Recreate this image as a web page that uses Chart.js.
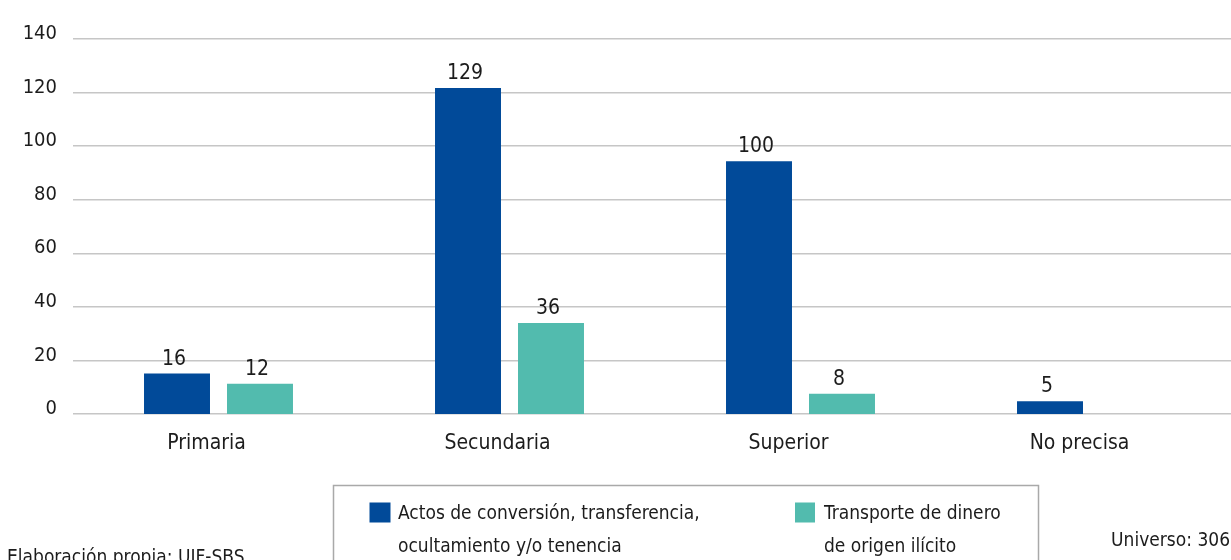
<!DOCTYPE html>
<html>
<head>
<meta charset="utf-8">
<script src="https://cdn.jsdelivr.net/npm/chart.js@4/dist/chart.umd.min.js"></script>
<style>
  html, body { margin: 0; padding: 0; background: #ffffff; overflow: hidden; }
  #wrap { position: absolute; left: 0; top: 0; width: 1240px; height: 560px; }
</style>
</head>
<body>
<div id="wrap"><canvas id="c" width="1240" height="560"></canvas></div>
<script>
// ---- data ----
const categories = ['Primaria', 'Secundaria', 'Superior', 'No precisa'];
const seriesNames = ['Actos de conversión, transferencia, ocultamiento y/o tenencia', 'Transporte de dinero de origen ilícito'];
const legendLines = [['Actos de conversión, transferencia,', 'ocultamiento y/o tenencia'], ['Transporte de dinero', 'de origen ilícito']];
const actosValues = [16, 129, 100, 5];
const transporteValues = [12, 36, 8, null];
const yTicks = [0, 20, 40, 60, 80, 100, 120, 140];
const sourceNote = 'Elaboración propia: UIF-SBS';
const universeNote = 'Universo: 306';

const FONT = "'Liberation Sans Narrow', 'DejaVu Sans Condensed', 'Roboto', sans-serif";
const TXT = '#1c1c1c';
const BLUE = '#014a99';
const TEAL = '#52bbae';

const valueLabels = {
  id: 'valueLabels',
  afterDatasetsDraw(chart) {
    const ctx = chart.ctx;
    ctx.save();
    ctx.font = '21px ' + FONT;
    ctx.fillStyle = TXT;
    ctx.textAlign = 'center';
    ctx.textBaseline = 'alphabetic';
    chart.data.datasets.forEach((ds, i) => {
      const meta = chart.getDatasetMeta(i);
      meta.data.forEach((el, j) => {
        const v = ds.data[j];
        if (v === null || v === undefined) return;
        ctx.fillText(String(v), el.x - 3, el.y - 9);
      });
    });
    ctx.restore();
  }
};

const legendBox = {
  id: 'legendBox',
  afterDraw(chart) {
    const ctx = chart.ctx;
    ctx.save();
    ctx.strokeStyle = '#a9a9a9';
    ctx.lineWidth = 1.5;
    ctx.strokeRect(333.5, 485.5, 705, 120);
    const items = [{ sx: 369.5, sw: 21, tx: 398 }, { sx: 795, sw: 20, tx: 824 }];
    ctx.font = '19px ' + FONT;
    ctx.textAlign = 'left';
    ctx.textBaseline = 'alphabetic';
    chart.data.datasets.forEach((ds, i) => {
      const it = items[i];
      ctx.fillStyle = ds.backgroundColor;
      ctx.fillRect(it.sx, 502.5, it.sw, 20);
      ctx.fillStyle = TXT;
      legendLines[i].forEach((line, k) => {
        ctx.fillText(line, it.tx, 519 + k * 33);
      });
    });
    ctx.textAlign = 'left';
    ctx.fillText(sourceNote, 7, 563);
    ctx.textAlign = 'right';
    ctx.fillText(universeNote, 1230, 546);
    ctx.restore();
  }
};

new Chart(document.getElementById('c'), {
  type: 'bar',
  data: {
    labels: categories,
    datasets: [
      { label: seriesNames[0], data: actosValues, backgroundColor: BLUE, yAxisID: 'yb' },
      { label: seriesNames[1], data: transporteValues, backgroundColor: TEAL, yAxisID: 'yb' }
    ]
  },
  options: {
    responsive: false,
    animation: false,
    devicePixelRatio: 1,
    layout: { padding: { top: 39, left: 0, right: 3, bottom: 106 } },
    datasets: { bar: { categoryPercentage: 0.5704, barPercentage: 0.795 } },
    plugins: { legend: { display: false }, tooltip: { enabled: false } },
    scales: {
      x: {
        grid: { display: false },
        border: { display: false },
        ticks: { color: TXT, font: { family: FONT, size: 21 }, padding: 9, labelOffset: -12, maxRotation: 0 },
        afterFit(s) { s.height = 40; }
      },
      y: {
        position: 'left',
        min: 0, max: 140,
        afterBuildTicks(s) { s.ticks = yTicks.map(v => ({ value: v })); },
        grid: { color: '#c6c6c6', lineWidth: 1.5, drawTicks: false },
        border: { display: false },
        ticks: { color: TXT, font: { family: FONT, size: 20 }, padding: 16, labelOffset: -5 },
        afterFit(s) { s.width = 73; }
      },
      yb: {
        display: false,
        min: 0, max: 148.4
      }
    }
  },
  plugins: [valueLabels, legendBox]
});
</script>
</body>
</html>
